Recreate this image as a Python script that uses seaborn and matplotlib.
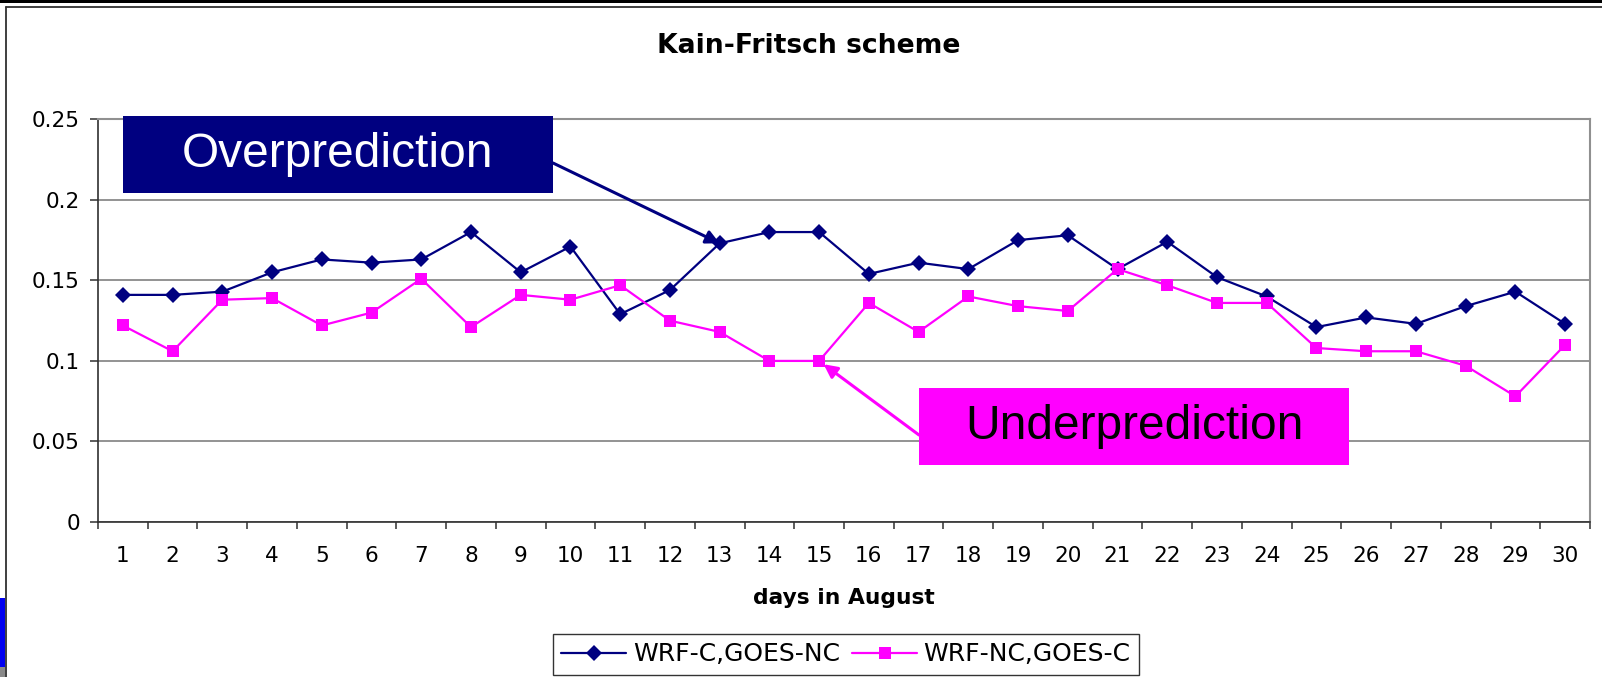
import matplotlib
matplotlib.use("Agg")
import matplotlib.pyplot as plt
from matplotlib.patches import Rectangle
from matplotlib.lines import Line2D
from matplotlib.ticker import FixedLocator, FuncFormatter, NullFormatter
import numpy as np
import pandas as pd
import seaborn as sns

# ---- data -------------------------------------------------------------
days = list(range(1, 31))
series_names = ["WRF-C,GOES-NC", "WRF-NC,GOES-C"]
wrf_c_goes_nc = [0.141, 0.141, 0.143, 0.155, 0.163, 0.161, 0.163, 0.180, 0.155, 0.171,
                 0.129, 0.144, 0.173, 0.180, 0.180, 0.154, 0.161, 0.157, 0.175, 0.178,
                 0.157, 0.174, 0.152, 0.140, 0.121, 0.127, 0.123, 0.134, 0.143, 0.123]
wrf_nc_goes_c = [0.122, 0.106, 0.138, 0.139, 0.122, 0.130, 0.151, 0.121, 0.141, 0.138,
                 0.147, 0.125, 0.118, 0.100, 0.100, 0.136, 0.118, 0.140, 0.134, 0.131,
                 0.157, 0.147, 0.136, 0.136, 0.108, 0.106, 0.106, 0.097, 0.078, 0.110]
y_ticks = [0, 0.05, 0.1, 0.15, 0.2, 0.25]
title = "Kain-Fritsch scheme"
x_title = "days in August"
over_label = "Overprediction"
under_label = "Underprediction"
over_day = 13
under_day = 15

NAVY = "#000080"
MAGENTA = "#FF00FF"

df = pd.DataFrame({
    "day": days * 2,
    "value": wrf_c_goes_nc + wrf_nc_goes_c,
    "series": [series_names[0]] * len(days) + [series_names[1]] * len(days),
})

# ---- style ------------------------------------------------------------
sns.set_style("white")
plt.rcParams["font.family"] = ["DejaVu Sans"]
plt.rcParams["text.color"] = "black"
plt.rcParams["xtick.color"] = "black"
plt.rcParams["ytick.color"] = "black"
plt.rcParams["axes.labelcolor"] = "black"

W, H = 1602, 677
fig = plt.figure(figsize=(W / 100, H / 100), dpi=100)
ax = fig.add_axes([98 / W, 1 - 522 / H, (1590 - 98) / W, (522 - 119.3) / H])

sns.lineplot(
    data=df, x="day", y="value", hue="series", style="series",
    palette={series_names[0]: NAVY, series_names[1]: MAGENTA},
    markers={series_names[0]: "D", series_names[1]: "s"},
    dashes=False, linewidth=1.6, markersize=8, markeredgewidth=0,
    ax=ax, legend=False, zorder=3,
)

ax.set_xlim(0.5, len(days) + 0.5)
ax.set_ylim(0, 0.25)
ax.set_xlabel("")
ax.set_ylabel("")

# category boundaries carry the tick marks, centres carry the labels
ax.xaxis.set_major_locator(FixedLocator(np.arange(0.5, len(days) + 1, 1.0)))
ax.xaxis.set_major_formatter(NullFormatter())
ax.xaxis.set_minor_locator(FixedLocator(days))
ax.xaxis.set_minor_formatter(FuncFormatter(lambda v, p: f"{int(round(v))}"))
ax.tick_params(axis="x", which="major", direction="out", length=5, width=1.1,
               color="#303030", bottom=True)
ax.tick_params(axis="x", which="minor", length=0, pad=17, labelsize=15.5,
               labelcolor="black", bottom=True)

ax.yaxis.set_major_locator(FixedLocator(y_ticks))
ax.yaxis.set_major_formatter(FuncFormatter(lambda v, p: f"{v:g}"))
ax.tick_params(axis="y", which="major", direction="out", length=6, width=1.1,
               color="#303030", pad=7, labelsize=15.5, labelcolor="black", left=True)

ax.grid(axis="y", color="#808080", linewidth=1.2, zorder=0)
ax.grid(axis="x", visible=False)
ax.set_axisbelow(True)

for side in ("left", "bottom"):
    ax.spines[side].set_color("#303030")
    ax.spines[side].set_linewidth(1.2)
for side in ("top", "right"):
    ax.spines[side].set_color("#909090")
    ax.spines[side].set_linewidth(1.5)

# ---- titles -------------------------------------------------------------
fig.text(808.5 / W, 1 - 53.3 / H, title, ha="center", va="baseline",
         fontsize=19.2, fontweight="bold", color="black")
fig.text(843.4 / W, 1 - 604 / H, x_title, ha="center", va="baseline",
         fontsize=15.7, fontweight="bold", color="black")

# ---- legend -------------------------------------------------------------
handles = [
    Line2D([], [], color=NAVY, marker="D", markersize=8, markeredgewidth=0, linewidth=1.6),
    Line2D([], [], color=MAGENTA, marker="s", markersize=8, markeredgewidth=0, linewidth=1.6),
]
leg = fig.legend(handles, series_names, loc="center", bbox_to_anchor=(846 / W, 1 - 654.5 / H),
                 ncol=2, frameon=True, fancybox=False, edgecolor="black", fontsize=18,
                 handlelength=2.6, handletextpad=0.25, columnspacing=0.5,
                 borderpad=0.35, borderaxespad=0, labelcolor="black")
leg.get_frame().set_linewidth(1.0)

# ---- callout boxes ------------------------------------------------------
def axfrac(px, py):
    return (px - 98) / (1590 - 98), (522 - py) / (522 - 119.3)

x0, y1 = axfrac(123, 116)
x1, y0 = axfrac(553, 192.7)
ax.add_patch(Rectangle((x0, y0), x1 - x0, y1 - y0, transform=ax.transAxes,
                       facecolor=NAVY, edgecolor="none", clip_on=False, zorder=6))
ax.text((x0 + x1) / 2, (y0 + y1) / 2, over_label, transform=ax.transAxes,
        ha="center", va="center", color="white", fontsize=34.5,
        family=["Liberation Sans"], zorder=7)
ax.annotate("", xy=(over_day, wrf_c_goes_nc[over_day - 1]), xycoords="data",
            xytext=axfrac(553, 163), textcoords="axes fraction",
            arrowprops=dict(arrowstyle="-|>", color=NAVY, lw=2.2, mutation_scale=20,
                            shrinkA=0, shrinkB=0),
            zorder=5)

u0, v1 = axfrac(919, 388)
u1, v0 = axfrac(1349, 464.7)
ax.add_patch(Rectangle((u0, v0), u1 - u0, v1 - v0, transform=ax.transAxes,
                       facecolor=MAGENTA, edgecolor="none", clip_on=False, zorder=6))
ax.text((u0 + u1) / 2, (v0 + v1) / 2, under_label, transform=ax.transAxes,
        ha="center", va="center", color="black", fontsize=34.5,
        family=["Liberation Sans"], zorder=7)
ax.annotate("", xy=(under_day, wrf_nc_goes_c[under_day - 1]), xycoords="data",
            xytext=axfrac(919, 435), textcoords="axes fraction",
            arrowprops=dict(arrowstyle="-|>", color=MAGENTA, lw=2.2, mutation_scale=20,
                            shrinkA=0, shrinkB=4),
            zorder=5)

# ---- outer frame of the chart object ------------------------------------
fig.patches.append(Rectangle((0, 1 - 3 / H), 1, 3 / H, transform=fig.transFigure,
                             facecolor="black", edgecolor="none"))
fig.lines.append(Line2D([6 / W, 6 / W], [0, 1 - 7 / H], transform=fig.transFigure,
                        color="#303030", linewidth=1.3))
fig.lines.append(Line2D([6 / W, 1], [1 - 7 / H, 1 - 7 / H], transform=fig.transFigure,
                        color="#303030", linewidth=1.3))
fig.patches.append(Rectangle((0, 1 - 667 / H), 5 / W, (667 - 598) / H,
                             transform=fig.transFigure, facecolor="#0000F0", edgecolor="none"))
fig.patches.append(Rectangle((0, 0), 5 / W, (677 - 667) / H,
                             transform=fig.transFigure, facecolor="#8a8a8a", edgecolor="none"))

fig.savefig("out.png", dpi=100)
